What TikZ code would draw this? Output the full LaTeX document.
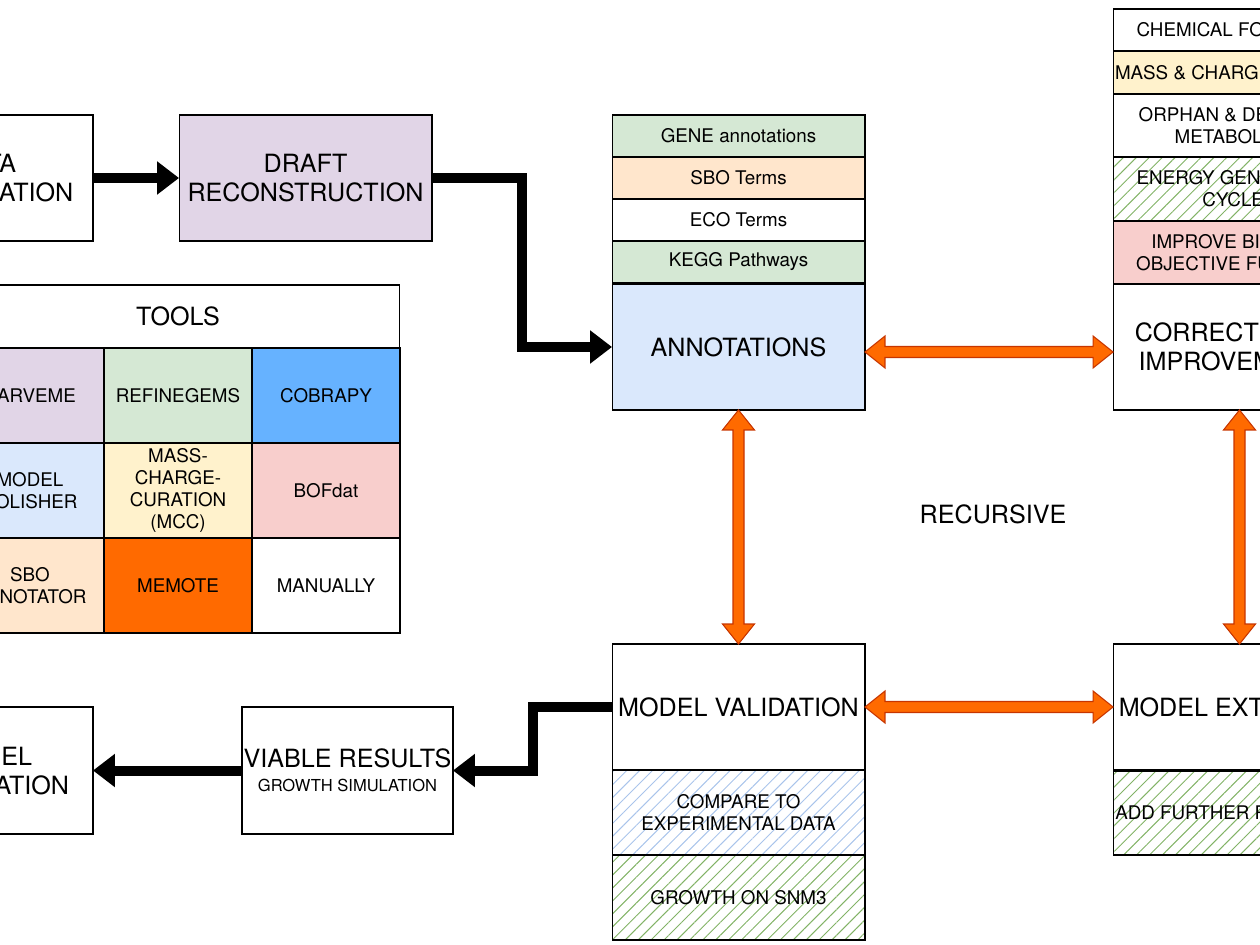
\documentclass[tikz,border=0pt]{standalone}
\usepackage{fontspec}
\setmainfont{TeX Gyre Heros}
\usetikzlibrary{arrows.meta,calc,patterns.meta}

\definecolor{purplebox}{HTML}{E1D5E7}
\definecolor{greenbox}{HTML}{D5E8D4}
\definecolor{orangebox}{HTML}{FFE6CC}
\definecolor{bluebox}{HTML}{DAE8FC}
\definecolor{yellowbox}{HTML}{FFF2CC}
\definecolor{redbox}{HTML}{F8CECC}
\definecolor{cobrablue}{HTML}{66B2FF}
\definecolor{memoteorange}{HTML}{FF6A00}
\definecolor{arroworange}{HTML}{FF6A00}
\definecolor{darkorange}{HTML}{C73500}
\definecolor{hatchgreen}{HTML}{82B366}
\definecolor{hatchblue}{HTML}{A9C4EB}

\newcommand{\bigtext}{\fontsize{14.3}{16.4}\selectfont}
\newcommand{\smalltext}{\fontsize{10.7}{12.6}\selectfont}
\newcommand{\tinytext}{\fontsize{9.4}{11}\selectfont}

\tikzset{
  box/.style={draw=black, line width=0.6pt, inner sep=0pt, outer sep=0pt, align=center},
  mainbox/.style={box, font=\bigtext, minimum width=5.06cm, minimum height=2.52cm},
  rowbox/.style={box, font=\smalltext, minimum width=5.06cm, minimum height=#1},
  rowbox/.default=0.84cm,
  toolcell/.style={box, font=\smalltext, minimum width=2.96cm, minimum height=1.9cm},
  hatch/.style={pattern={Lines[angle=45,distance=5.2pt,line width=0.55pt]}, pattern color=#1},
  blackarrow/.style={line width=0.2cm, line join=miter,
    -{Triangle[length=0.44cm,width=0.64cm]}},
  flexarrow/.style={draw=darkorange, fill=arroworange, line width=0.6pt, line join=miter},
}

% double block arrows, left->right and top->bottom
\newcommand{\flexh}[2]{%
  \draw[flexarrow] (#1) -- ($(#1)+(20,-16)$) -- ($(#1)+(20,-5.5)$)
    -- ($(#2)+(-20,-5.5)$) -- ($(#2)+(-20,-16)$) -- (#2)
    -- ($(#2)+(-20,16)$) -- ($(#2)+(-20,5.5)$)
    -- ($(#1)+(20,5.5)$) -- ($(#1)+(20,16)$) -- cycle;
}
\newcommand{\flexv}[2]{%
  \draw[flexarrow] (#1) -- ($(#1)+(16,20)$) -- ($(#1)+(5.5,20)$)
    -- ($(#2)+(5.5,-20)$) -- ($(#2)+(16,-20)$) -- (#2)
    -- ($(#2)+(-16,-20)$) -- ($(#2)+(-5.5,-20)$)
    -- ($(#1)+(-5.5,20)$) -- ($(#1)+(-16,20)$) -- cycle;
}

\begin{document}
\begin{tikzpicture}[x=0.02cm,y=-0.02cm]
\useasboundingbox (0,0) rectangle (1260,945);
\clip (0,0) rectangle (1260,945);

% top row
\node[mainbox, minimum width=4.3cm] (data) at (-14.5,178) {DATA\\PREPARATION};
\node[mainbox, fill=purplebox] (draft) at (305.5,178) {DRAFT\\RECONSTRUCTION};

% annotations
\node[rowbox, fill=greenbox] (gene) at (738.5,136) {GENE annotations};
\node[rowbox, fill=orangebox] (sbo) at (738.5,178) {SBO Terms};
\node[rowbox] (eco) at (738.5,220) {ECO Terms};
\node[rowbox, fill=greenbox] (kegg) at (738.5,262) {KEGG Pathways};
\node[mainbox, fill=bluebox] (annot) at (738.5,347) {ANNOTATIONS};

% corrections
\node[rowbox] (chem) at (1239.5,30) {CHEMICAL FORMULAS};
\node[rowbox=0.86cm, fill=yellowbox] (mass) at (1239.5,72.5) {MASS \& CHARGE BALANCE};
\node[rowbox=1.26cm] (orphan) at (1239.5,125.5) {ORPHAN \& DEAD-END\\METABOLITES};
\node[rowbox=1.28cm, hatch=hatchgreen] (egc) at (1239.5,189) {ENERGY GENERATING\\CYCLES};
\node[rowbox=1.26cm, fill=redbox] (bof) at (1239.5,252.5) {IMPROVE BIOMASS\\OBJECTIVE FUNCTION};
\node[mainbox] (corr) at (1239.5,347) {CORRECTIONS \&\\IMPROVEMENTS};

% tools table
\node[box, font=\bigtext, minimum width=8.88cm, minimum height=1.26cm] (tools) at (178,316.5) {TOOLS};
\node[toolcell, fill=purplebox] (carveme) at (30,395.5) {CARVEME};
\node[toolcell, fill=greenbox] (refine) at (178,395.5) {REFINEGEMS};
\node[toolcell, fill=cobrablue] (cobra) at (326,395.5) {COBRAPY};
\node[toolcell, fill=bluebox] (polish) at (30,490.5) {MODEL\\POLISHER};
\node[toolcell, fill=yellowbox] (mcc) at (178,490.5) {MASS-\\CHARGE-\\CURATION\\(MCC)};
\node[toolcell, fill=redbox] (bofdat) at (326,490.5) {BOFdat};
\node[toolcell, fill=orangebox] (sboann) at (30,585.5) {SBO\\ANNOTATOR};
\node[toolcell, fill=memoteorange] (memote) at (178,585.5) {MEMOTE};
\node[toolcell] (manual) at (326,585.5) {MANUALLY};

\node[font=\bigtext] (rec) at (993,514) {RECURSIVE};

% validation and extension
\node[mainbox] (val) at (738.5,707) {MODEL VALIDATION};
\node[rowbox=1.7cm, hatch=hatchblue] (cmp) at (738.5,812.5) {COMPARE TO\\EXPERIMENTAL DATA};
\node[rowbox=1.7cm, hatch=hatchgreen] (snm) at (738.5,897.5) {GROWTH ON SNM3};
\node[mainbox] (ext) at (1239.5,707) {MODEL EXTENSION};
\node[rowbox=1.68cm, hatch=hatchgreen] (add) at (1239.5,813) {ADD FURTHER REACTIONS};

% bottom left
\node[mainbox, minimum width=4.22cm, minimum height=2.54cm] (viable) at (347.5,770.5)
  {VIABLE RESULTS\\[-3pt]{\tinytext GROWTH SIMULATION}};
\node[mainbox, minimum width=4.22cm, minimum height=2.54cm] (app) at (-12.5,770.5) {MODEL\\APPLICATION};

% black flow
\draw[blackarrow] (data.east) -- (draft.west);
\draw[blackarrow] (draft.east) -- ++(90,0) |- (annot.west);
\draw[blackarrow] (val.west) -- ++(-79,0) |- (viable.east);
\draw[blackarrow] (viable.west) -- (app.east);

% recursive loop
\coordinate (annotR) at ($(annot.east)+(0,5)$);
\coordinate (corrL) at ($(corr.west)+(0,5)$);
\flexh{annotR}{corrL}
\flexh{val.east}{ext.west}
\flexv{annot.south}{val.north}
\flexv{corr.south}{ext.north}
\end{tikzpicture}
\end{document}
